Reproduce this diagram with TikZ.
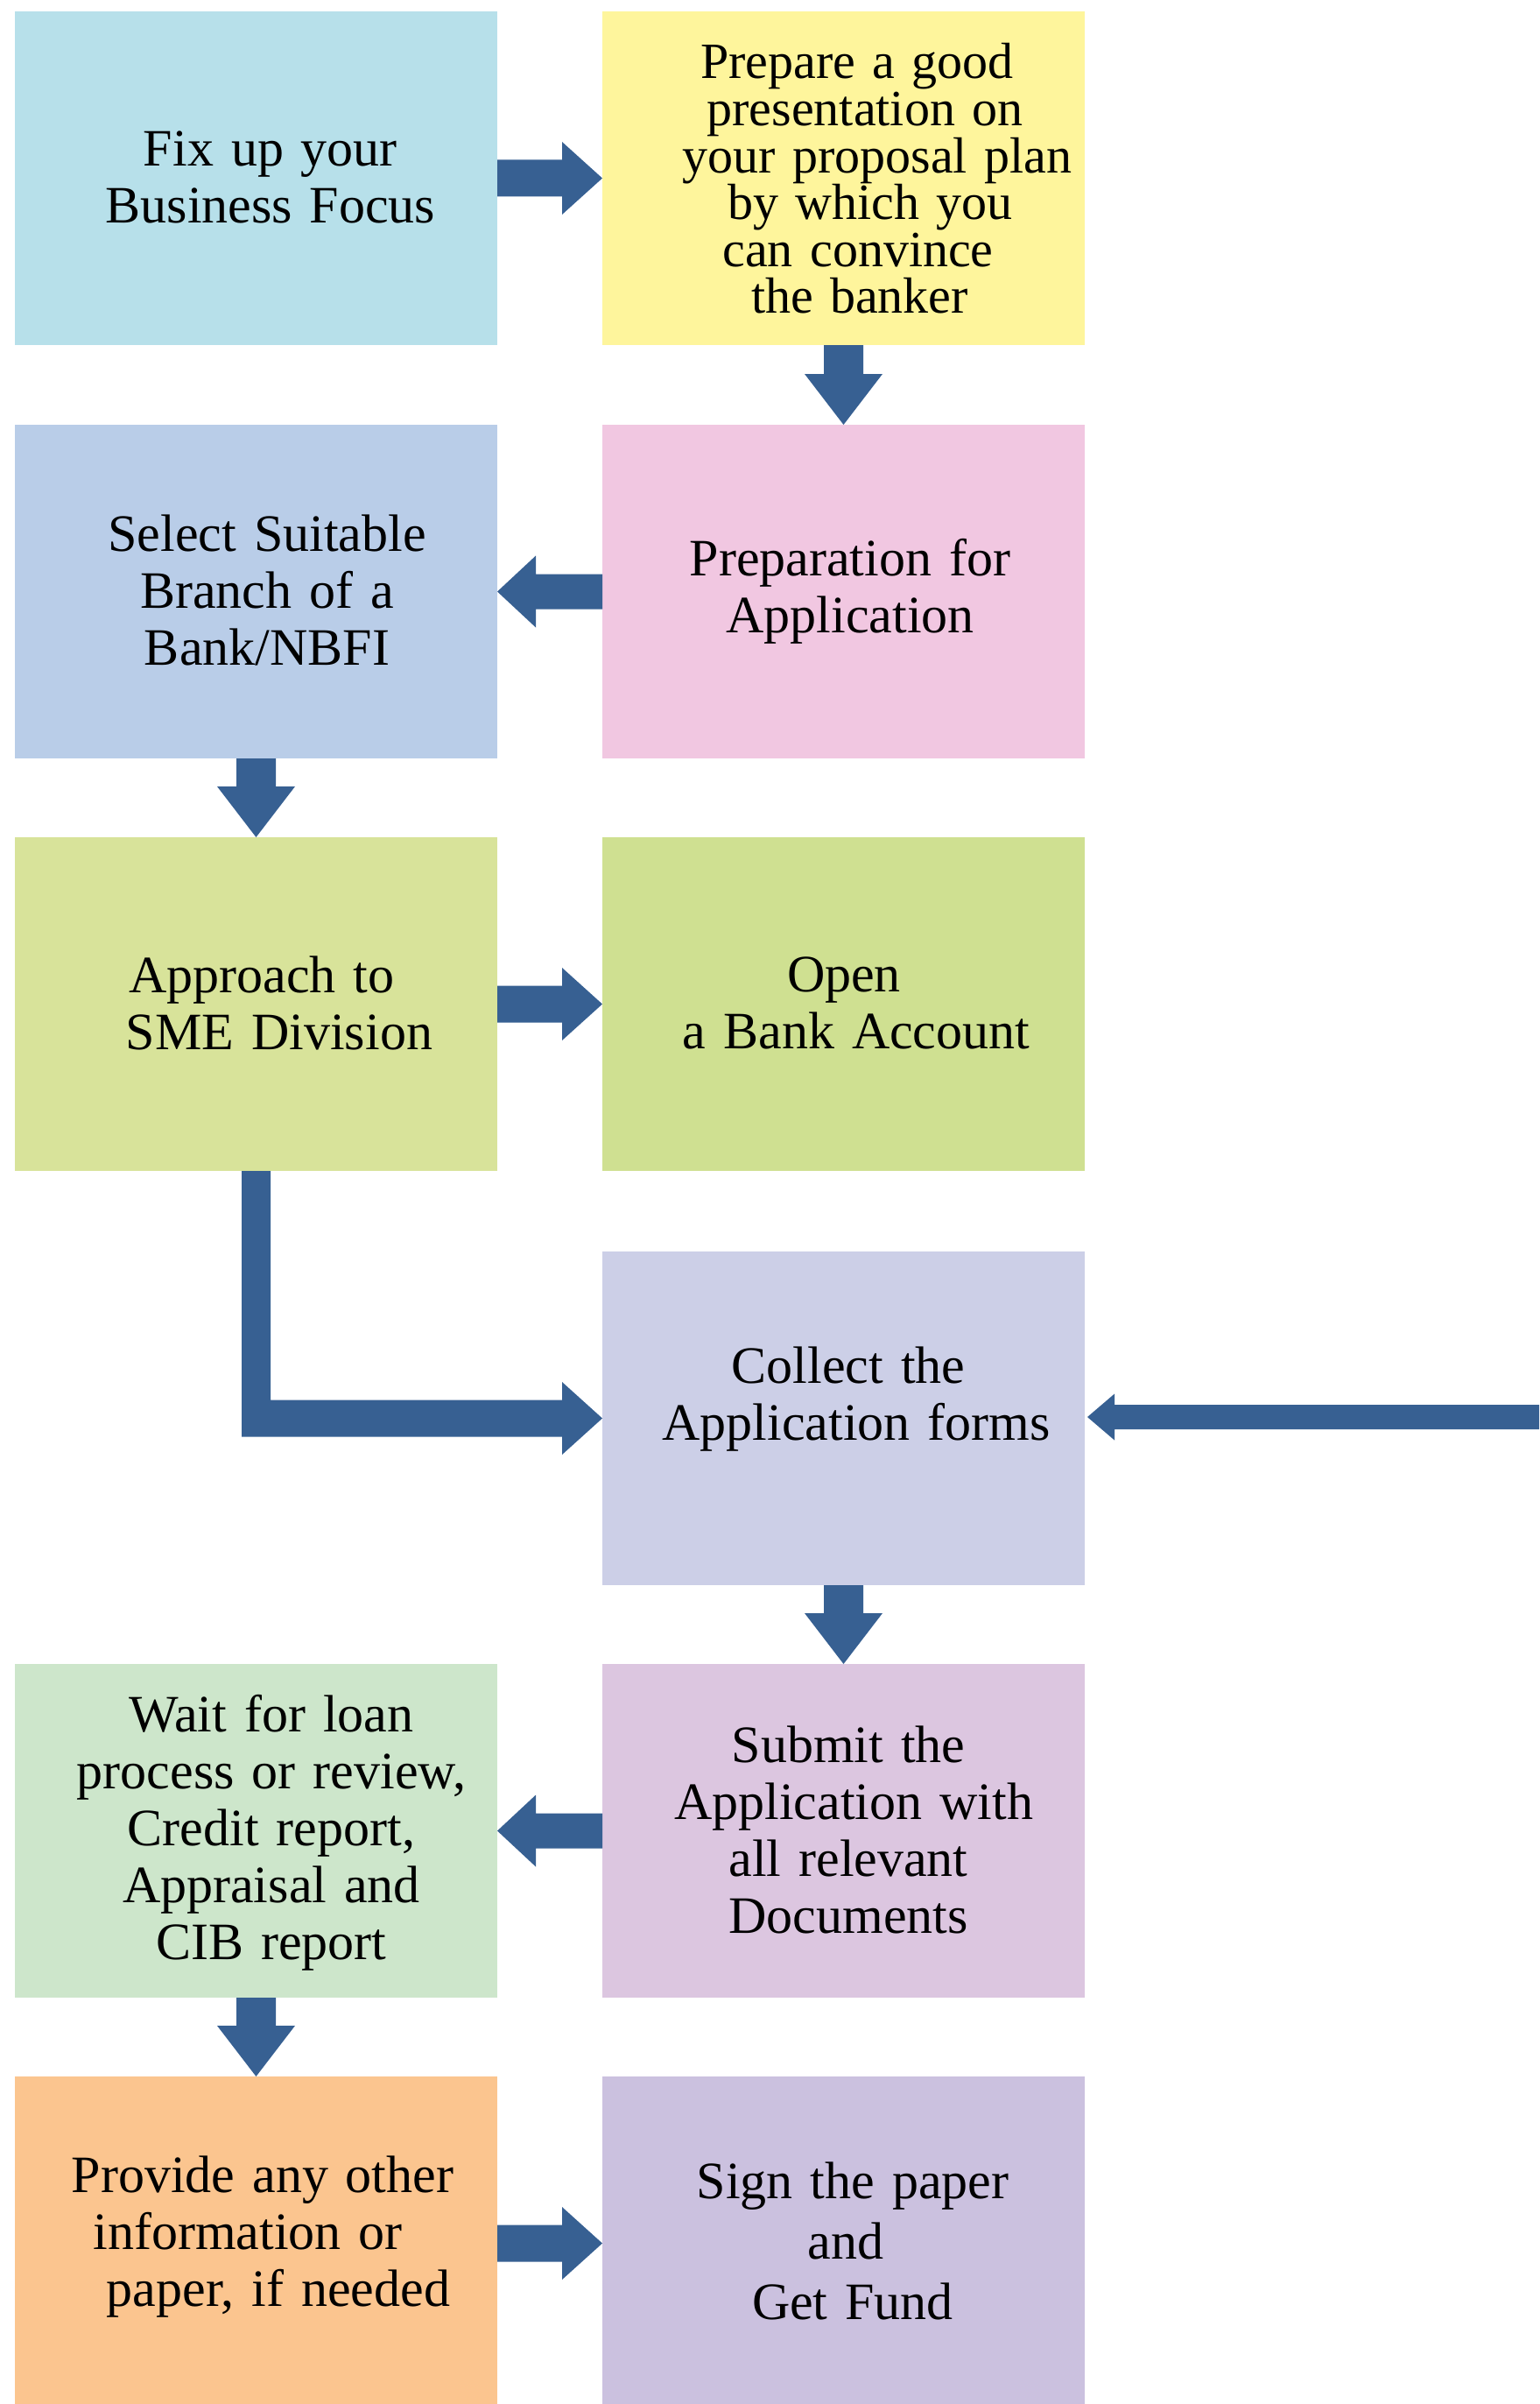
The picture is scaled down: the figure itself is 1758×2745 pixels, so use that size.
\documentclass[tikz,border=0pt]{standalone}
\usepackage{fontspec}
\setmainfont{Liberation Serif}
\usetikzlibrary{calc}

\definecolor{arrowblue}{HTML}{376092}
\definecolor{cfix}{HTML}{B7E0EA}
\definecolor{cprep}{HTML}{FEF59C}
\definecolor{csel}{HTML}{B9CDE8}
\definecolor{cappl}{HTML}{F1C7E1}
\definecolor{capp}{HTML}{D8E39A}
\definecolor{copen}{HTML}{CFE091}
\definecolor{ccoll}{HTML}{CCCFE7}
\definecolor{cwait}{HTML}{CDE6CB}
\definecolor{csub}{HTML}{DCC6E0}
\definecolor{cprov}{HTML}{FBC58F}
\definecolor{csign}{HTML}{CBC1DF}

\tikzset{
  box/.style={rectangle, draw=none, inner sep=0pt, outer sep=0pt,
    minimum width=275.5pt, minimum height=190.5pt},
  label text/.style={inner sep=0pt, text width=260pt, align=center,
    font=\fontsize{30}{32.5}\selectfont},
  arrowfill/.style={fill=arrowblue, draw=none},
}

% block arrows: shaft start #1, tip #2
\newcommand{\blockright}[2]{%
  \fill[arrowfill] ($(#1)+(0,-21)$) -- ($(#2)+(-46,-21)$) -- ($(#2)+(-46,-41.5)$)
    -- (#2) -- ($(#2)+(-46,41.5)$) -- ($(#2)+(-46,21)$) -- ($(#1)+(0,21)$) -- cycle;}
\newcommand{\blockleft}[2]{%
  \fill[arrowfill] ($(#1)+(0,-20)$) -- ($(#2)+(44,-20)$) -- ($(#2)+(44,-41)$)
    -- (#2) -- ($(#2)+(44,41)$) -- ($(#2)+(44,20)$) -- ($(#1)+(0,20)$) -- cycle;}
\newcommand{\blockdown}[2]{%
  \fill[arrowfill] ($(#1)+(-22.5,0)$) -- ($(#2)+(-22.5,-58)$) -- ($(#2)+(-44.5,-58)$)
    -- (#2) -- ($(#2)+(44.5,-58)$) -- ($(#2)+(22.5,-58)$) -- ($(#1)+(22.5,0)$) -- cycle;}

\begin{document}
\begin{tikzpicture}[x=0.5pt, y=-0.5pt]
\fill[white] (0,0) rectangle (1758,2745);
\useasboundingbox (0,0) rectangle (1758,2745);

% boxes
\node[box, fill=cfix]  (fix)   at (292.5, 203.5)  {};
\node[box, fill=cprep] (prep)  at (963.5, 203.5)  {};
\node[box, fill=csel]  (sel)   at (292.5, 675.5)  {};
\node[box, fill=cappl] (appl)  at (963.5, 675.5)  {};
\node[box, fill=capp]  (appr)  at (292.5, 1146.5) {};
\node[box, fill=copen] (open)  at (963.5, 1146.5) {};
\node[box, fill=ccoll] (coll)  at (963.5, 1619.5) {};
\node[box, fill=cwait] (wait)  at (292.5, 2090.5) {};
\node[box, fill=csub]  (sub)   at (963.5, 2090.5) {};
\node[box, fill=cprov] (prov)  at (292.5, 2561.5) {};
\node[box, fill=csign] (sign)  at (963.5, 2561.5) {};

% texts
\node[label text] (tfix) at (309, 202) {Fix up your\\Business Focus};
\node[label text, font=\fontsize{29}{26.8}\selectfont] (tprep) at (987, 204)
  {\hspace*{-8pt}Prepare a good\\\hspace*{1pt}presentation on\\\hspace*{15pt}your proposal plan\\
   \hspace*{7pt}by which you\\\hspace*{-7pt}can convince\\\hspace*{-5pt}the banker};
\node[label text] (tsel) at (305, 674) {Select Suitable\\Branch of a\\Bank/NBFI};
\node[label text] (tappl) at (971, 675) {Preparation for\\Application};
\node[label text] (tappr) at (309, 1145) {\hspace*{-10pt}Approach to\\\hspace*{10pt}SME Division};
\node[label text] (topen) at (971, 1145) {\hspace*{-7pt}Open\\\hspace*{7pt}a Bank Account};
\node[label text] (tcoll) at (974, 1598) {\hspace*{-5pt}Collect the\\\hspace*{4pt}Application forms};
\node[label text] (twait) at (310, 2093)
  {Wait for loan\\process or review,\\Credit report,\\Appraisal and\\CIB report};
\node[label text] (tsub) at (969, 2089)
  {Submit the\\\hspace*{6pt}Application with\\all relevant\\Documents};
\node[label text] (tprov) at (300, 2554)
  {Provide any other\\\hspace*{-17pt}information or\\\hspace*{18pt}paper, if needed};
\node[label text, font=\fontsize{30}{34.6}\selectfont] (tsign) at (971, 2559)
  {\hspace*{3pt}Sign the paper\\\hspace*{-5pt}and\\\hspace*{3pt}Get Fund};

% connectors
\blockright{fix.east}{prep.west}
\blockdown{prep.south}{appl.north}
\blockleft{appl.west}{sel.east}
\blockdown{sel.south}{appr.north}
\blockright{appr.east}{open.east -| open.west}
\blockdown{coll.south}{sub.north}
\blockleft{sub.west}{wait.east}
\blockdown{wait.south}{prov.north}
\blockright{prov.east}{sign.west}

% bent arrow from the SME division down and across to the forms
\coordinate (bend) at (appr.south |- coll.west);
\fill[arrowfill] ($(appr.south)+(-16.5,0)$) -- ($(bend)+(-16.5,21)$)
  -- ($(coll.west)+(-46,21)$) -- ($(coll.west)+(-46,41.5)$) -- (coll.west)
  -- ($(coll.west)+(-46,-41.5)$) -- ($(coll.west)+(-46,-21)$)
  -- ($(bend)+(16.5,-21)$) -- ($(appr.south)+(16.5,0)$) -- cycle;

% incoming arrow from the right edge
\coordinate (feed) at (1758, 1618);
\coordinate (feedtip) at ($(coll.east)+(3,-1.5)$);
\fill[arrowfill] ($(feed)+(0,-14)$) -- ($(feedtip)+(31,-14)$) -- ($(feedtip)+(31,-26.5)$)
  -- (feedtip) -- ($(feedtip)+(31,26.5)$) -- ($(feedtip)+(31,14)$) -- ($(feed)+(0,14)$) -- cycle;
\end{tikzpicture}
\end{document}
